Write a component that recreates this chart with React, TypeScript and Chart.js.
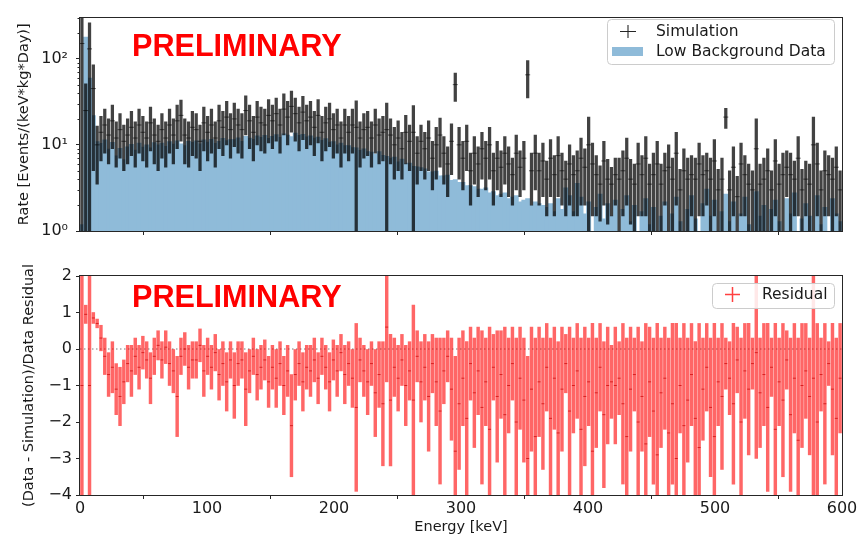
import React, { useEffect, useRef } from "react";
import { Chart, registerables } from "chart.js";

Chart.register(...registerables);

// ---------- data ----------
const BIN_WIDTH = 3; // keV per bin
const ENERGY_MIN = 0;
const ENERGY_MAX = 600;
const X_TICKS = [0, 100, 200, 300, 400, 500, 600];

const RATE_MIN = 1;
const RATE_MAX = 300;
const RATE_MAJOR_TICKS = [1, 10, 100];
const RATE_TICK_LABELS = ["10⁰", "10¹", "10²"];
const RATE_MINOR_TICKS = [2, 3, 4, 5, 6, 7, 8, 9, 20, 30, 40, 50, 60, 70, 80, 90, 200, 300];

const RESIDUAL_MIN = -4;
const RESIDUAL_MAX = 2;
const RESIDUAL_TICKS = [-4, -3, -2, -1, 0, 1, 2];

// Low Background Data (histogram), one value per 3 keV bin
const DATA_RATE = [
  1.2, 180, 60, 22, 11, 10.5, 11.5, 9, 10.8, 7.5,
  9.2, 6.8, 9.6, 10.2, 8.8, 10.6, 9.5, 10.1, 9.3, 10.7,
  10.1, 10.6, 9.7, 11, 10.3, 11.2, 10.4, 9.9, 11.1, 10.8,
  11.2, 10.4, 11.5, 10.9, 11.7, 10.5, 11.1, 12, 11.3, 11.6,
  11.6, 12.2, 11.1, 12.7, 12.1, 11.7, 12.8, 12.3, 13, 12,
  12.7, 13.3, 12.3, 13.5, 13.1, 12.6, 13.8, 13, 13.4, 12.5,
  12.8, 12.1, 12.4, 11.4, 11.9, 10.9, 11, 10.1, 10.6, 9.9,
  9.9, 9.4, 9.3, 8.7, 9.1, 8.4, 8.3, 7.9, 8.4, 7.6,
  7.4, 7.1, 7.3, 6.4, 6.9, 6.1, 6.2, 5.7, 5.6, 5.5,
  5.3, 4.9, 4.9, 5, 4.4, 4.4, 4.5, 3.9, 4, 3.7,
  3.7, 3.4, 3.4, 3.3, 3.1, 3.1, 3.2, 2.8, 2.9, 2.6,
  2.7, 2.8, 2.4, 2.5, 2.6, 2.2, 2.3, 2.4, 2, 2.2,
  2.1, 2, 1.9, 2.1, 1.7, 2.4, 1.8, 3.2, 2.6, 1.7,
  3.6, 2.5, 1.6, 2.2, 0, 1.9, 2.7, 1.4, 2.1, 1.5,
  2.3, 0, 1.8, 2.6, 1.3, 2, 0, 1.7, 2.4, 1.2,
  1.9, 0, 1.5, 2.2, 0, 1.6, 2.5, 1.3, 0, 1.8,
  2.6, 1.4, 0, 2.1, 3.1, 1.5, 2.3, 0, 1.7, 2.7,
  1.3, 2.2, 0, 1.6, 2.5, 1.2, 0, 2.9, 1.5, 2,
  0, 1.8, 2.3, 1.3, 0, 2.4, 1.6, 2.8, 0, 1.4,
  2.1, 1.5, 0, 2.6, 1.2, 1.9, 0, 2.4, 1.6, 1.3,
];

// Simulation (centre value and half error) per bin
const SIM_RATE = [
  150, 25, 130, 45, 10, 14, 17, 13, 19, 12,
  15, 11, 13, 16, 12, 17, 14, 12, 18, 13,
  11, 15, 12, 17, 13, 19, 22, 13, 12, 16,
  15, 11, 18, 14, 17, 12, 19, 16, 21, 15,
  20, 17, 15, 25, 19, 14, 21, 18, 17, 22,
  19, 23, 17, 26, 21, 28, 23, 18, 24, 19,
  21, 16, 22, 14, 18, 20, 15, 17, 12, 17,
  14, 17, 16, 12, 15, 16, 12, 17, 13, 14,
  15, 13, 10, 12, 9, 14, 11, 14, 8, 11,
  9, 12, 7, 10, 13, 8, 6, 11, 50, 10,
  7, 11, 5, 8, 6, 9, 7, 10, 5, 7,
  5.5, 8, 6, 4.5, 8, 5.5, 7, 65, 5, 8,
  5, 6.5, 4, 7, 4.5, 7.5, 5, 4, 6, 4.5,
  5, 7, 5.5, 10, 6, 4.5, 3.5, 6.5, 4, 3.5,
  4.5, 4, 5, 7, 4, 3.5, 6, 4.5, 7, 3.5,
  4.5, 6, 3.5, 5, 5.5, 4, 8, 3, 5, 4,
  4.5, 4, 6, 4.5, 5, 4, 6.5, 3, 4, 21,
  3, 5.5, 2.5, 6, 4.5, 3.5, 3, 9, 3.5, 4,
  5, 3, 6.5, 3.5, 4.5, 5.5, 4.5, 4, 7, 3,
  4, 3.5, 10, 6, 3, 5, 4.5, 4, 5.5, 3,
];
const SIM_ERR = [
  200, 26, 130, 40, 6.5, 7.5, 9, 7, 10, 6.5,
  8, 6, 7, 8.5, 6.5, 9, 7.5, 6.5, 9.5, 7,
  6, 8, 6.5, 9, 7, 10, 11, 7, 6.5, 8.5,
  8, 6, 9.5, 7.5, 9, 6.5, 10, 8.5, 11, 8,
  10.5, 9, 8, 12, 10, 7.5, 11, 9.5, 9, 11.5,
  10, 12, 9, 13, 11, 14, 12, 9.5, 12.5, 10,
  11, 8.5, 11.5, 7.5, 9.5, 10.5, 8, 9, 6.5, 9,
  7.5, 9, 16.5, 6.5, 8, 8.5, 6.5, 9, 7, 7.5,
  15.5, 7, 6, 7, 5, 8, 6, 14.5, 4.5, 6,
  5, 7, 4, 6, 7.5, 4.5, 3.5, 6.5, 18, 6,
  4, 6, 3, 4.5, 3.5, 5, 4, 6, 3, 4,
  3, 4.5, 3.5, 2.5, 5, 3, 4, 30, 3, 5,
  3, 4, 2.5, 4.5, 3, 5, 3, 2.5, 4, 3,
  3.5, 5, 3.5, 11, 4.5, 3, 2.2, 4.5, 2.8, 2,
  2.5, 3, 3.5, 5, 2.8, 2.5, 4.5, 3, 5.5, 2.5,
  3.5, 5, 2.5, 3, 4.5, 3, 6, 2.2, 4, 3,
  3, 3, 4.5, 3, 3, 3, 5, 2.2, 3, 5.5,
  2, 4, 1.8, 4.5, 3, 2.5, 2, 11, 2.5, 3,
  4, 2, 5, 2.5, 3.5, 3, 3.5, 2.5, 5.5, 2.2,
  2.5, 2.5, 11, 4.5, 2, 3.5, 3, 3, 4, 2,
];

// Residual (Data - Simulation)/Data and its half error per bin
const RESIDUAL = [
  -1, 0.95, -1, 0.85, 0.7, 0.3, -0.2, -0.7, -0.5, -1.1,
  -1.3, -0.9, -0.4, -0.6, -0.2, -0.5, -0.1, -0.3, -0.8, -0.2,
  0.1, -0.3, 0.05, -0.4, -0.6, -1.3, -0.2, 0, -0.5, -0.3,
  -0.3, 0.1, -0.6, -0.2, -0.5, -0.1, -0.7, -0.4, -0.9, -0.3,
  -1, -0.4, -0.3, -1.1, -0.6, -0.2, -0.7, -0.5, -0.3, -0.9,
  -0.5, -0.8, -0.4, -1, -0.6, -2.1, -0.7, -0.4, -0.9, -0.5,
  -0.6, -0.3, -0.8, -0.2, -0.5, -0.9, -0.3, -0.6, -0.1, -0.7,
  -0.4, -0.8, -1.6, -0.3, -0.6, -0.9, -0.4, -1.2, -0.7, -1.5,
  0.6, -1.4, -0.5, -0.8, -0.3, -1, -0.6, -1.4, -0.2, -0.9,
  -0.5, -1.3, -0.4, -0.9, -1.7, -0.6, -0.2, -1.1, -2.8, -1.5,
  -0.8, -1.9, -0.4, -1.2, -0.6, -1.6, -0.9, -2.2, -0.5, -1.3,
  -0.7, -1.8, -1, -0.4, -2, -0.8, -1.4, -3, -1.1, -2.4,
  -0.9, -1.5, -0.5, -1.9, -0.8, -2.3, -1.1, -0.4, -1.7, -1,
  -0.6, -2.2, -1.3, -0.9, -2.8, -1.2, -0.5, -1.8, -1, -0.9,
  -1, -0.8, -1.5, -2.4, -1.1, -0.7, -2, -1.3, -2.6, -0.9,
  -1.7, -2.9, -1.2, -0.8, -2.3, -1.5, -3, -1, -2.1, -1.4,
  -0.7, -1.9, -2.7, -1.1, -0.5, -1.6, -2.4, -0.9, -1.3, -0.4,
  -0.8, -1.5, -0.3, -2, -0.6, -1.1, -0.4, -0.1, -1.2, -0.7,
  -1.6, -0.5, -2.2, -0.9, -1.4, -0.3, -1.8, -0.8, -2.5, -1,
  -0.6, -1.3, -0.8, -2, -0.7, -1.5, -0.4, -1.1, -1.9, -0.8,
];
const RESIDUAL_ERR = [
  5, 0.25, 5, 0.15, 0.12, 0.35, 0.5, 0.6, 0.7, 0.7,
  0.8, 0.6, 0.5, 0.7, 0.5, 0.6, 0.45, 0.5, 0.7, 0.5,
  0.4, 0.5, 0.45, 0.6, 0.6, 1.1, 0.5, 0.45, 0.6, 0.5,
  0.5, 0.45, 0.7, 0.5, 0.6, 0.5, 0.7, 0.6, 0.8, 0.5,
  0.9, 0.6, 0.5, 1, 0.6, 0.5, 0.7, 0.6, 0.55, 0.7,
  0.6, 0.8, 0.6, 0.8, 0.7, 1.4, 0.7, 0.6, 0.8, 0.6,
  0.7, 0.6, 0.7, 0.5, 0.6, 0.8, 0.55, 0.7, 0.5, 0.8,
  0.6, 0.8, 2.3, 0.6, 0.7, 0.9, 0.6, 1.2, 0.9, 1.7,
  1.5, 1.8, 0.8, 0.9, 0.7, 1.1, 0.8, 2.6, 0.7, 1.1,
  0.9, 1.5, 0.8, 1.2, 2, 0.9, 0.7, 1.4, 2.6, 1.8,
  1.3, 2.1, 1, 1.5, 1.2, 2.1, 1.2, 2.8, 0.9, 1.8,
  1.2, 2.4, 1.3, 1, 2.3, 1.4, 1.7, 2.8, 1.7, 2.7,
  1.5, 1.8, 1.2, 2.2, 1.4, 2.5, 1.7, 0.8, 2.3, 1.3,
  1.3, 2.5, 1.9, 1.2, 3.5, 1.5, 1.2, 2, 1.6, 1,
  1.6, 1, 2.2, 2.7, 1.7, 1, 2.6, 1.5, 3.3, 1.5,
  2, 3.6, 1.5, 1.4, 2.6, 2.2, 3.7, 1.3, 2.8, 1.7,
  1.4, 2.1, 3.4, 1.4, 1.2, 1.9, 3.1, 1.2, 2, 0.7,
  1, 2.2, 0.9, 2.3, 1.3, 1.8, 0.7, 2.9, 1.5, 1.4,
  2.3, 0.8, 2.9, 1.2, 2.1, 0.8, 2.1, 1.5, 2.8, 1.7,
  1.3, 1.6, 3.3, 2.7, 1, 2.2, 0.6, 1.8, 2.2, 1.5,
];

// ---------- styling ----------
const FONT = "'DejaVu Sans', sans-serif";
const HIST_COLOR = "rgb(143,187,217)";
const SIM_COLOR = "rgba(0,0,0,0.74)";
const RES_COLOR = "rgba(255,0,0,0.6)";
const AXIS_COLOR = "#262626";
const TEXT_COLOR = "#1a1a1a";

const energies = DATA_RATE.map((_, i) => ENERGY_MIN + (i + 0.5) * BIN_WIDTH);

const framePlugin = {
  id: "frame",
  afterDatasetsDraw(chart: any) {
    const { ctx, chartArea: a } = chart;
    ctx.save();
    ctx.strokeStyle = AXIS_COLOR;
    ctx.lineWidth = 1;
    ctx.strokeRect(Math.round(a.left) - 0.5, Math.round(a.top) - 0.5, Math.round(a.right - a.left) + 1, Math.round(a.bottom - a.top) + 1);
    ctx.restore();
  },
};

const minorTickPlugin = {
  id: "minorTicks",
  afterDraw(chart: any) {
    const { ctx, chartArea: a } = chart;
    const y = chart.scales.y;
    ctx.save();
    ctx.strokeStyle = AXIS_COLOR;
    ctx.lineWidth = 1;
    ctx.beginPath();
    RATE_MINOR_TICKS.forEach((v) => {
      if (v > RATE_MAX) return;
      const py = Math.round(y.getPixelForValue(v)) + 0.5;
      ctx.moveTo(a.left - 2.5, py);
      ctx.lineTo(a.left, py);
    });
    ctx.stroke();
    ctx.restore();
  },
};

const zeroLinePlugin = {
  id: "zeroLine",
  beforeDatasetsDraw(chart: any) {
    const { ctx, chartArea: a } = chart;
    const py = chart.scales.y.getPixelForValue(0);
    ctx.save();
    ctx.strokeStyle = "rgba(128,128,128,0.7)";
    ctx.lineWidth = 1.3;
    ctx.setLineDash([1.5, 2.5]);
    ctx.beginPath();
    ctx.moveTo(a.left, py);
    ctx.lineTo(a.right, py);
    ctx.stroke();
    ctx.restore();
  },
};

function legendBox(ctx: CanvasRenderingContext2D, x: number, y: number, w: number, h: number) {
  const r = 4;
  ctx.beginPath();
  ctx.moveTo(x + r, y);
  ctx.lineTo(x + w - r, y);
  ctx.arcTo(x + w, y, x + w, y + r, r);
  ctx.lineTo(x + w, y + h - r);
  ctx.arcTo(x + w, y + h, x + w - r, y + h, r);
  ctx.lineTo(x + r, y + h);
  ctx.arcTo(x, y + h, x, y + h - r, r);
  ctx.lineTo(x, y + r);
  ctx.arcTo(x, y, x + r, y, r);
  ctx.closePath();
  ctx.fillStyle = "rgba(255,255,255,0.85)";
  ctx.fill();
  ctx.strokeStyle = "#cccccc";
  ctx.lineWidth = 1;
  ctx.stroke();
}

const topLegendPlugin = {
  id: "topLegend",
  afterDraw(chart: any) {
    const ctx = chart.ctx as CanvasRenderingContext2D;
    ctx.save();
    legendBox(ctx, 607.5, 19.5, 227, 45);
    ctx.strokeStyle = "rgba(0,0,0,0.85)";
    ctx.lineWidth = 1.1;
    ctx.beginPath();
    ctx.moveTo(620, 31.5);
    ctx.lineTo(636, 31.5);
    ctx.moveTo(628, 25);
    ctx.lineTo(628, 38);
    ctx.stroke();
    ctx.fillStyle = HIST_COLOR;
    ctx.fillRect(612, 47, 31, 9);
    ctx.fillStyle = TEXT_COLOR;
    ctx.font = `15.5px ${FONT}`;
    ctx.textBaseline = "middle";
    ctx.textAlign = "left";
    ctx.fillText("Simulation", 656, 31.5);
    ctx.fillText("Low Background Data", 656, 52);
    ctx.restore();
  },
};

const bottomLegendPlugin = {
  id: "bottomLegend",
  afterDraw(chart: any) {
    const ctx = chart.ctx as CanvasRenderingContext2D;
    ctx.save();
    legendBox(ctx, 712.5, 33.5, 122, 25);
    ctx.strokeStyle = "rgba(255,0,0,0.75)";
    ctx.lineWidth = 1.5;
    ctx.beginPath();
    ctx.moveTo(725, 44.5);
    ctx.lineTo(740, 44.5);
    ctx.moveTo(732.5, 37);
    ctx.lineTo(732.5, 52);
    ctx.stroke();
    ctx.fillStyle = TEXT_COLOR;
    ctx.font = `15.5px ${FONT}`;
    ctx.textBaseline = "middle";
    ctx.textAlign = "left";
    ctx.fillText("Residual", 762, 44.5);
    ctx.restore();
  },
};

function topConfig(): any {
  const histData = energies.map((x, i) => ({ x, y: DATA_RATE[i] > 0 ? DATA_RATE[i] : null }));
  const simBars = energies.map((x, i) => ({
    x,
    y: [Math.max(SIM_RATE[i] - SIM_ERR[i], 0.05), SIM_RATE[i] + SIM_ERR[i]],
  }));
  const simPts = energies.map((x, i) => ({ x, y: SIM_RATE[i] }));
  return {
    type: "bar",
    data: {
      datasets: [
        {
          type: "scatter",
          label: "Simulation markers",
          data: simPts,
          pointStyle: "line",
          pointRadius: 2.5,
          pointBorderColor: "rgba(0,0,0,0.6)",
          pointBorderWidth: 1,
          pointBackgroundColor: "rgba(0,0,0,0)",
          clip: 0,
          order: 0,
        },
        {
          type: "bar",
          label: "Simulation",
          data: simBars,
          backgroundColor: SIM_COLOR,
          borderWidth: 0,
          barThickness: 2.6,
          grouped: false,
          clip: 0,
          order: 1,
        },
        {
          type: "bar",
          label: "Low Background Data",
          data: histData,
          backgroundColor: HIST_COLOR,
          borderWidth: 0,
          barPercentage: 1.3,
          categoryPercentage: 1,
          grouped: false,
          clip: 0,
          order: 2,
        },
      ],
    },
    options: {
      responsive: false,
      animation: false,
      events: [],
      layout: { padding: { top: 12, right: 19, left: 0, bottom: 0 } },
      plugins: { legend: { display: false }, tooltip: { enabled: false } },
      scales: {
        x: {
          type: "linear",
          min: ENERGY_MIN,
          max: ENERGY_MAX,
          bounds: "data",
          offset: false,
          afterBuildTicks: (s: any) => {
            s.ticks = X_TICKS.map((v) => ({ value: v }));
          },
          ticks: { display: false },
          grid: { drawOnChartArea: false, drawTicks: true, tickLength: 4, tickColor: AXIS_COLOR, tickWidth: 1 },
          border: { display: false },
          afterFit: (s: any) => {
            s.height = 19;
          },
        },
        y: {
          type: "logarithmic",
          min: RATE_MIN,
          max: RATE_MAX,
          bounds: "data",
          afterBuildTicks: (s: any) => {
            s.ticks = RATE_MAJOR_TICKS.map((v) => ({ value: v }));
          },
          ticks: {
            callback: (_v: any, i: number) => RATE_TICK_LABELS[i],
            font: { size: 16, family: FONT },
            color: TEXT_COLOR,
            padding: 8,
          },
          grid: { drawOnChartArea: false, drawTicks: true, tickLength: 4, tickColor: AXIS_COLOR, tickWidth: 1 },
          border: { display: false },
          title: {
            display: true,
            text: "Rate [Events/(keV*kg*Day)]",
            font: { size: 14.5, family: FONT },
            color: TEXT_COLOR,
            padding: { top: 16, bottom: 0 },
          },
          afterFit: (s: any) => {
            s.width = 80;
          },
        },
      },
    },
    plugins: [framePlugin, minorTickPlugin, topLegendPlugin],
  };
}

function bottomConfig(): any {
  const resBars = energies.map((x, i) => ({
    x,
    y: [RESIDUAL[i] - RESIDUAL_ERR[i], RESIDUAL[i] + RESIDUAL_ERR[i]],
  }));
  const resPts = energies.map((x, i) => ({ x, y: RESIDUAL[i] }));
  return {
    type: "bar",
    data: {
      datasets: [
        {
          type: "scatter",
          label: "Residual markers",
          data: resPts,
          pointStyle: "line",
          pointRadius: 1.5,
          pointBorderColor: "rgba(200,0,0,0.7)",
          pointBorderWidth: 1,
          pointBackgroundColor: "rgba(0,0,0,0)",
          clip: 0,
          order: 0,
        },
        {
          type: "bar",
          label: "Residual",
          data: resBars,
          backgroundColor: RES_COLOR,
          borderWidth: 0,
          barThickness: 2.8,
          grouped: false,
          clip: 0,
          order: 1,
        },
      ],
    },
    options: {
      responsive: false,
      animation: false,
      events: [],
      layout: { padding: { top: 26, right: 19, left: 0, bottom: 0 } },
      plugins: { legend: { display: false }, tooltip: { enabled: false } },
      scales: {
        x: {
          type: "linear",
          min: ENERGY_MIN,
          max: ENERGY_MAX,
          bounds: "data",
          offset: false,
          afterBuildTicks: (s: any) => {
            s.ticks = X_TICKS.map((v) => ({ value: v }));
          },
          ticks: {
            font: { size: 16, family: FONT },
            color: TEXT_COLOR,
            padding: 0,
            maxRotation: 0,
            autoSkip: false,
            callback: (v: any) => String(v),
          },
          grid: { drawOnChartArea: false, drawTicks: true, tickLength: 4, tickColor: AXIS_COLOR, tickWidth: 1 },
          border: { display: false },
          title: {
            display: true,
            text: "Energy [keV]",
            font: { size: 14.5, family: FONT },
            color: TEXT_COLOR,
            padding: { top: 0, bottom: 1 },
          },
          afterFit: (s: any) => {
            s.height = 42;
          },
        },
        y: {
          type: "linear",
          min: RESIDUAL_MIN,
          max: RESIDUAL_MAX,
          bounds: "data",
          afterBuildTicks: (s: any) => {
            s.ticks = RESIDUAL_TICKS.map((v) => ({ value: v }));
          },
          ticks: {
            font: { size: 16, family: FONT },
            color: TEXT_COLOR,
            padding: 4,
            callback: (v: any) => (v < 0 ? "\u2212" + Math.abs(v) : String(v)),
          },
          grid: { drawOnChartArea: false, drawTicks: true, tickLength: 4, tickColor: AXIS_COLOR, tickWidth: 1 },
          border: { display: false },
          title: {
            display: true,
            text: "(Data - Simulation)/Data Residual",
            font: { size: 14.5, family: FONT },
            color: TEXT_COLOR,
            padding: { top: 21, bottom: 0 },
          },
          afterFit: (s: any) => {
            s.width = 80;
          },
        },
      },
    },
    plugins: [zeroLinePlugin, framePlugin, bottomLegendPlugin],
  };
}

const prelimStyle = (top: number): React.CSSProperties => ({
  position: "absolute",
  left: 132,
  top,
  margin: 0,
  fontFamily: "'Liberation Sans', Arial, sans-serif",
  fontWeight: 700,
  fontSize: 30.6,
  lineHeight: 1,
  color: "#ff0000",
  whiteSpace: "nowrap",
  pointerEvents: "none",
});

export default function App() {
  const topRef = useRef<HTMLCanvasElement | null>(null);
  const botRef = useRef<HTMLCanvasElement | null>(null);

  useEffect(() => {
    Chart.defaults.font.family = FONT;
    const top = new Chart(topRef.current as HTMLCanvasElement, topConfig());
    const bot = new Chart(botRef.current as HTMLCanvasElement, bottomConfig());
    return () => {
      top.destroy();
      bot.destroy();
    };
  }, []);

  return (
    <div style={{ position: "absolute", left: 0, top: 0, width: 861, height: 537, background: "#ffffff", overflow: "hidden" }}>
      <canvas ref={topRef} width={861} height={250} style={{ position: "absolute", left: 0, top: 0, width: 861, height: 250 }} />
      <canvas ref={botRef} width={861} height={287} style={{ position: "absolute", left: 0, top: 250, width: 861, height: 287 }} />
      <div style={prelimStyle(30)}>PRELIMINARY</div>
      <div style={prelimStyle(281)}>PRELIMINARY</div>
    </div>
  );
}
